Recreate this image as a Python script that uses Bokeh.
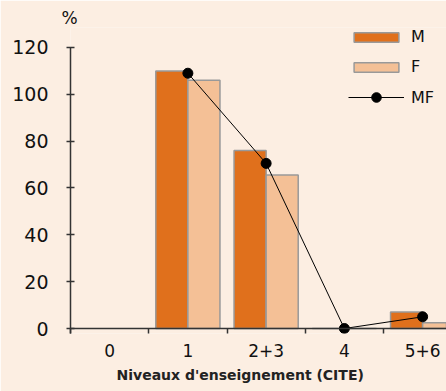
from bokeh.plotting import figure
from bokeh.models import Range1d, FixedTicker, Legend, LegendItem, Span, Title, ColumnDataSource
from bokeh.embed import file_html
from bokeh.resources import INLINE

# Data
categories = ["0", "1", "2+3", "4", "5+6"]
m_values = [None, 110, 76, 0, 7]
f_values = [None, 106, 65.5, 0, 2.5]
mf_values = [None, 109, 70.5, 0, 5]
y_ticks = [0, 20, 40, 60, 80, 100, 120]

BG = "#FCEEE2"
M_COL = "#E0701C"
F_COL = "#F4C096"
EDGE = "#999999"
FONT = "DejaVu Sans"

idx = list(range(len(categories)))
src_m = ColumnDataSource(dict(x=[i - 0.205 for i, v in zip(idx, m_values) if v is not None],
                              top=[v for v in m_values if v is not None]))
src_f = ColumnDataSource(dict(x=[i + 0.205 for i, v in zip(idx, f_values) if v is not None],
                              top=[v for v in f_values if v is not None]))
src_mf = ColumnDataSource(dict(x=[i for i, v in zip(idx, mf_values) if v is not None],
                               y=[v for v in mf_values if v is not None]))

Y0 = -2.13
p = figure(width=446, height=391, output_backend="svg", toolbar_location=None,
           x_range=Range1d(-0.5, 4.305), y_range=Range1d(Y0, 128.52),
           min_border_left=70, min_border_right=0, min_border_top=27, min_border_bottom=58,
           background_fill_color=BG, border_fill_color=BG, outline_line_color=None)
p.grid.visible = False

rm = p.vbar(x="x", top="top", bottom=0, width=0.41, source=src_m,
            fill_color=M_COL, line_color=EDGE, line_width=1.5)
rf = p.vbar(x="x", top="top", bottom=0, width=0.41, source=src_f,
            fill_color=F_COL, line_color=EDGE, line_width=1.5)

p.add_layout(Span(location=0, dimension="width", line_color="#333333", line_width=1.5))

rl = p.line(x="x", y="y", source=src_mf, line_color="black", line_width=1)
rs = p.scatter(x="x", y="y", source=src_mf, size=10, fill_color="black", line_color="black")

# Y axis
ya = p.yaxis[0]
ya.ticker = FixedTicker(ticks=y_ticks)
ya.bounds = (Y0, 120)
ya.axis_line_color = "#333333"
ya.axis_line_width = 1.5
ya.major_tick_in = 4
ya.major_tick_out = 4
ya.major_tick_line_color = "#333333"
ya.major_tick_line_width = 1.5
ya.minor_tick_line_color = None
ya.major_label_text_font = FONT
ya.major_label_text_font_size = "19px"
ya.major_label_text_color = "#111111"
ya.major_label_standoff = 18

# X axis
xa = p.xaxis[0]
xa.ticker = FixedTicker(ticks=idx, minor_ticks=[-0.5, 0.5, 1.5, 2.5, 3.5])
xa.major_label_overrides = {i: c for i, c in zip(idx, categories)}
xa.axis_line_color = None
xa.major_tick_line_color = None
xa.minor_tick_line_color = "#333333"
xa.minor_tick_line_width = 1.5
xa.minor_tick_in = 5
xa.minor_tick_out = 0
xa.major_label_text_font = FONT
xa.major_label_text_font_size = "17px"
xa.major_label_text_color = "#111111"
xa.major_label_standoff = 4

p.add_layout(Title(text="Niveaux d'enseignement (CITE)", align="left", offset=46,
                   text_font=FONT, text_font_size="14px", text_font_style="bold",
                   text_color="#222222"), "below")

p.add_layout(Title(text="%", align="left", offset=-9, standoff=0,
                   text_font=FONT, text_font_size="17px", text_font_style="normal",
                   text_color="#111111"), "above")

legend1 = Legend(items=[LegendItem(label="M", renderers=[rm]),
                        LegendItem(label="F", renderers=[rf])],
                 location=(278, 257), glyph_width=56, glyph_height=12, label_standoff=7,
                 spacing=11, padding=0, margin=0, background_fill_alpha=0,
                 border_line_color=None, label_text_font=FONT, label_text_font_size="16px",
                 label_text_color="#111111")
legend2 = Legend(items=[LegendItem(label="MF", renderers=[rl, rs])],
                 location=(278, 224), glyph_width=56, glyph_height=24, label_standoff=7,
                 spacing=0, padding=0, margin=0, background_fill_alpha=0,
                 border_line_color=None, label_text_font=FONT, label_text_font_size="16px",
                 label_text_color="#111111")
p.add_layout(legend1)
p.add_layout(legend2)

open("out.html", "w").write(file_html(p, INLINE))
